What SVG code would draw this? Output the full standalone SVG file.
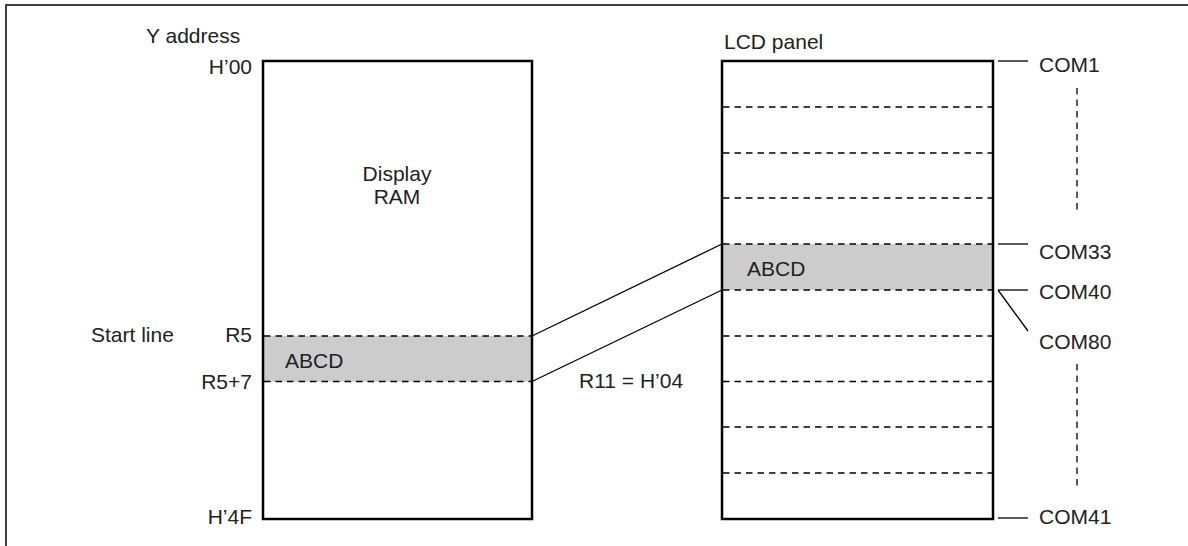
<svg xmlns="http://www.w3.org/2000/svg" width="1188" height="546" viewBox="0 0 1188 546">
<style>
text{font-family:"Liberation Sans",Arial,sans-serif;font-size:21px;fill:#222}
.box{fill:none;stroke:#000;stroke-width:2.5}
.dash{stroke:#000;stroke-width:1.3;stroke-dasharray:6.5 5;fill:none}
.ln{stroke:#000;stroke-width:1.3;fill:none}
.band{fill:#cccccc}
.end{text-anchor:end}
</style>
<rect x="6" y="5" width="1200" height="560" fill="#fff" stroke="#000" stroke-width="1.5"/>
<g id="display-ram">
<rect class="band" x="263" y="336" width="269" height="45.5"/>
<line class="dash" x1="264" y1="336" x2="531" y2="336"/>
<line class="dash" x1="264" y1="381.5" x2="531" y2="381.5"/>
<rect class="box" x="263" y="61" width="269" height="458"/>
<text x="397" y="181" text-anchor="middle">Display</text>
<text x="397" y="204" text-anchor="middle">RAM</text>
<text x="285" y="368">ABCD</text>
</g>
<g id="labels-left">
<text x="146" y="43">Y address</text>
<text class="end" x="252" y="74">H’00</text>
<text x="91" y="342">Start line</text>
<text class="end" x="252" y="342">R5</text>
<text class="end" x="252" y="389">R5+7</text>
<text class="end" x="252" y="524">H’4F</text>
</g>
<g id="lcd-panel">
<rect class="band" x="722" y="244" width="271" height="46"/>
<line class="dash" x1="723" y1="107" x2="992" y2="107"/>
<line class="dash" x1="723" y1="153" x2="992" y2="153"/>
<line class="dash" x1="723" y1="198" x2="992" y2="198"/>
<line class="dash" x1="723" y1="244" x2="992" y2="244"/>
<line class="dash" x1="723" y1="290" x2="992" y2="290"/>
<line class="dash" x1="723" y1="336" x2="992" y2="336"/>
<line class="dash" x1="723" y1="381.5" x2="992" y2="381.5"/>
<line class="dash" x1="723" y1="427" x2="992" y2="427"/>
<line class="dash" x1="723" y1="473" x2="992" y2="473"/>
<rect class="box" x="722" y="61" width="271" height="458"/>
<text x="724" y="49">LCD panel</text>
<text x="747" y="276">ABCD</text>
</g>
<g id="com-labels">
<line class="ln" x1="998" y1="61" x2="1028" y2="61"/>
<line class="ln" x1="998" y1="244" x2="1028" y2="244"/>
<line class="ln" x1="998" y1="290" x2="1028" y2="290"/>
<line class="ln" x1="998" y1="290" x2="1028" y2="331"/>
<line class="ln" x1="998" y1="518" x2="1028" y2="518"/>
<line class="dash" x1="1077" y1="88" x2="1077" y2="212"/>
<line class="dash" x1="1077" y1="364" x2="1077" y2="488"/>
<text x="1039" y="72">COM1</text>
<text x="1039" y="259">COM33</text>
<text x="1039" y="299">COM40</text>
<text x="1039" y="349">COM80</text>
<text x="1039" y="524">COM41</text>
</g>
<g id="connectors">
<line class="ln" x1="532" y1="336" x2="722" y2="244"/>
<line class="ln" x1="532" y1="381.5" x2="722" y2="290"/>
<text x="579" y="388">R11 = H’04</text>
</g>
</svg>
